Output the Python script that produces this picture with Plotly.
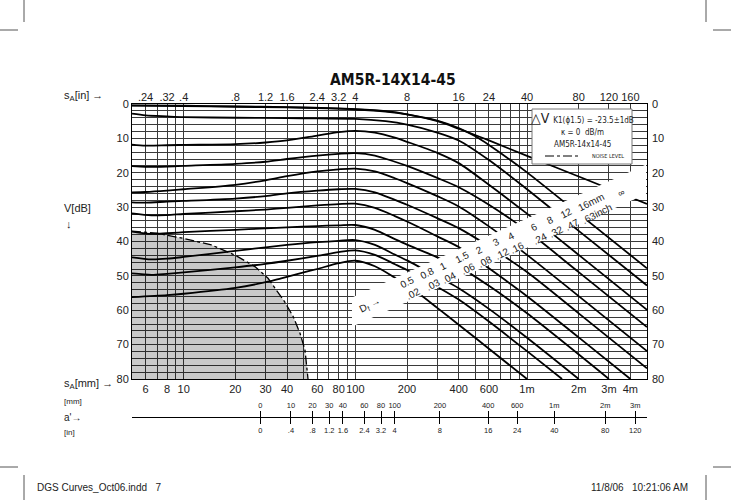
import math
import plotly.graph_objects as go

# ---------------- data ----------------
GRID_MM = [5, 6, 7, 8, 9, 10, 20, 30, 40, 50, 60, 70, 80, 90, 100, 200, 300, 400, 500,
           600, 700, 800, 900, 1000, 2000, 3000, 4000, 5000]
MM_TICKS = [6, 8, 10, 20, 30, 40, 60, 80, 100, 200, 400, 600, 1000, 2000, 3000, 4000]
MM_LABELS = ["6", "8", "10", "20", "30", "40", "60", "80", "100", "200", "400", "600",
             "1m", "2m", "3m", "4m"]
IN_LABELS = [".24", ".32", ".4", ".8", "1.2", "1.6", "2.4", "3.2", "4", "8", "16", "24",
             "40", "80", "120", "160"]
DB_TICKS = list(range(0, 81, 10))

# a' scale (projected distance) tick labels
A_MM = [0, 10, 20, 30, 40, 60, 80, 100, 200, 400, 600, 1000, 2000, 3000]
A_MM_LABELS = ["0", "10", "20", "30", "40", "60", "80", "100", "200", "400", "600",
               "1m", "2m", "3m"]
A_IN_LABELS = ["0", ".4", ".8", "1.2", "1.6", "2.4", "3.2", "4", "8", "16", "24",
               "40", "80", "120"]
A_OFFSET_MM = 28.0      # s_A at a' = 0
A_FACTOR = 1.4142       # s_A per mm of a' (45 deg probe)

# DGS curves: distance s_A [mm] and gain V [dB]
CURVES = {
    "inf": ([5, 10, 20, 40, 70, 100, 150, 200, 300, 400, 600, 1000, 2000, 5000],
            [0.4, 0.5, 0.7, 0.9, 1.2, 1.5, 2.1, 3.0, 5.0, 7.2, 10.6, 15.1, 21.1, 29.1]),
    "16": ([5, 10, 20, 40, 70, 100, 150, 200, 300, 400, 500, 600, 800, 1000, 2000, 5000],
           [0.5, 0.6, 0.8, 1.0, 1.3, 1.6, 2.2, 3.0, 4.8, 7.0, 9.4, 11.9, 16.3, 19.9, 31.9, 47.8]),
    "12": ([5, 6, 8, 10, 20, 40, 60, 100, 150, 200, 300, 400, 600, 1000, 2000, 5000],
           [2.8, 3.3, 3.6, 3.8, 4.0, 4.1, 4.2, 4.3, 5.0, 6.0, 8.3, 10.6, 16.3, 24.8, 36.9, 52.8]),
    "8": ([5, 6, 8, 10, 20, 30, 40, 60, 80, 100, 130, 170, 200, 300, 400, 600, 1000, 2000, 5000],
          [11.8, 12.1, 12.0, 11.9, 11.7, 11.2, 10.6, 9.2, 8.2, 7.8, 8.3, 9.8, 11.0, 14.2, 17.2, 23.5, 31.9, 43.9, 59.9]),
    "6": ([5, 6, 8, 10, 20, 30, 40, 60, 80, 100, 130, 170, 200, 300, 400, 600, 1000, 2000, 5000],
          [18.1, 18.3, 18.2, 18.0, 17.4, 16.8, 16.0, 15.0, 14.5, 14.3, 15.0, 16.8, 18.0, 21.5, 24.2, 29.3, 36.9, 48.9, 64.9]),
    "4": ([5, 6, 8, 10, 20, 30, 40, 60, 80, 100, 130, 170, 200, 300, 400, 600, 1000, 2000, 5000],
          [25.7, 25.6, 25.2, 24.8, 23.5, 22.2, 21.0, 19.6, 19.0, 18.8, 19.6, 21.6, 23.0, 26.8, 29.8, 35.6, 43.9, 55.9, 71.9]),
    "3": ([5, 6, 8, 10, 20, 30, 40, 60, 80, 100, 130, 170, 200, 300, 400, 600, 1000, 2000, 5000],
          [28.6, 28.7, 28.4, 28.2, 27.5, 26.8, 26.0, 25.2, 24.8, 24.7, 25.7, 27.9, 29.3, 33.2, 36.1, 41.4, 48.9, 60.9, 76.9]),
    "2": ([5, 6.5, 8, 10, 20, 30, 40, 60, 80, 100, 130, 170, 200, 300, 400, 600, 1000, 2000, 4000],
          [31.8, 32.4, 32.3, 32.0, 31.2, 30.7, 30.2, 29.5, 29.1, 29.0, 30.2, 32.6, 34.2, 38.5, 41.6, 47.8, 55.9, 67.9, 80.0]),
    "1.5": ([5, 6.5, 8, 10, 20, 30, 40, 60, 80, 100, 130, 170, 200, 300, 400, 600, 1000, 3000],
            [37.1, 37.8, 37.6, 37.3, 36.6, 36.2, 35.9, 35.5, 35.3, 35.2, 36.6, 39.3, 40.9, 44.6, 47.3, 52.9, 60.9, 80.0]),
    "1": ([5, 6.5, 8, 10, 20, 30, 40, 60, 80, 100, 130, 170, 200, 300, 400, 600, 1000, 2000],
          [44.6, 45.2, 45.0, 44.5, 42.7, 41.7, 41.0, 40.2, 39.8, 39.6, 41.0, 43.8, 45.5, 50.2, 53.6, 59.6, 68.0, 80.0]),
    "0.8": ([5, 6.5, 8, 10, 20, 30, 40, 60, 80, 100, 130, 170, 200, 300, 400, 600, 1000, 1600],
            [49.3, 49.7, 49.4, 49.0, 47.5, 46.5, 45.6, 44.2, 43.1, 42.6, 43.9, 46.6, 48.3, 53.2, 56.9, 63.3, 71.9, 80.0]),
    "0.5": ([5, 8, 10, 20, 31, 37, 50, 60, 80, 100, 130, 170, 200, 300, 400, 600, 1000],
            [56.2, 55.6, 55.2, 53.5, 51.7, 50.7, 49.0, 48.0, 46.3, 45.6, 47.2, 50.5, 52.6, 59.3, 64.2, 71.2, 80.0]),
}

# noise level boundary
NOISE_MM = [5, 7, 10, 14.5, 20, 26, 31, 38.7, 43.5, 47.6, 50.9, 52.5, 53]
NOISE_DB = [37.0, 37.6, 39.1, 41.0, 44.0, 47.3, 50.7, 57.5, 61.9, 66.7, 71.6, 78.8, 80.0]

BAND_MM = ["0.5", "0.8", "1", "1.5", "2", "3", "4", "6", "8", "12", "16mm"]
BAND_IN = [".02", ".03", ".04", ".06", ".08", ".12", ".16", ".24", ".32", ".47", ".63inch"]

# ---------------- layout helpers ----------------
W, H = 731, 500
PL, PR, PT, PB = 132, 647, 104, 417     # plot-area pixel box (incl. a' scale)
Y_BOTTOM = 379                           # bottom of the dB grid


def pp(x, y):
    return (x - PL) / (PR - PL), (PB - y) / (PB - PT)


FONT = "Liberation Sans, Arial, Helvetica, sans-serif"
NARROW = "DejaVu Sans Condensed, Liberation Sans Narrow, Arial Narrow, Liberation Sans, sans-serif"
XR = [math.log10(5), math.log10(5000)]

fig = go.Figure()

# noise region
fig.add_trace(go.Scatter(x=NOISE_MM + [5], y=NOISE_DB + [80], fill="toself",
                         fillcolor="rgba(0,0,0,0.21)", line=dict(width=0),
                         mode="lines", hoverinfo="skip", showlegend=False))
fig.add_trace(go.Scatter(x=NOISE_MM, y=NOISE_DB, mode="lines",
                         line=dict(color="black", width=1.3, dash="dashdot"),
                         hoverinfo="skip", showlegend=False))

for name, (xs, ys) in CURVES.items():
    fig.add_trace(go.Scatter(x=xs, y=ys, mode="lines", name=name,
                             line=dict(color="black", width=1.8, shape="spline", smoothing=0.8),
                             showlegend=False))

# dummy traces so secondary axes are drawn
for xa, ya in [("x2", "y"), ("x", "y2"), ("x3", "y"), ("x4", "y")]:
    fig.add_trace(go.Scatter(x=[100], y=[40], xaxis=xa, yaxis=ya, mode="markers",
                             marker=dict(opacity=0), hoverinfo="skip", showlegend=False))

grid_text = [MM_LABELS[MM_TICKS.index(v)] if v in MM_TICKS else "" for v in GRID_MM]
db_grid = list(range(0, 81, 2))
db_text = [str(v) if v % 10 == 0 else "" for v in db_grid]
ydom0 = (PB - Y_BOTTOM) / (PB - PT)
a_pos = [A_OFFSET_MM + A_FACTOR * a for a in A_MM]

axis_common = dict(type="log", range=XR, automargin=False, tickangle=0)
fig.update_layout(
    width=W, height=H, margin=dict(l=PL, r=W - PR, t=PT, b=H - PB, autoexpand=False),
    paper_bgcolor="white", plot_bgcolor="white",
    font=dict(family=FONT, color="#222", size=11),
    xaxis=dict(**axis_common, tickvals=GRID_MM, ticktext=grid_text, showgrid=True,
               gridcolor="#3a3a3a", gridwidth=0.8, showline=True, linecolor="black",
               linewidth=1, mirror=True, ticks="", anchor="y", zeroline=False,
               tickfont=dict(size=11)),
    xaxis2=dict(**axis_common, overlaying="x", side="top", anchor="y", tickvals=MM_TICKS,
                ticktext=IN_LABELS, showgrid=False, ticks="", tickfont=dict(size=11)),
    xaxis3=dict(**axis_common, overlaying="x", side="top", anchor="free", position=0,
                tickvals=a_pos, ticktext=A_MM_LABELS, showgrid=False, ticks="outside",
                ticklen=6, tickcolor="black", showline=True, linecolor="black",
                linewidth=1, tickfont=dict(size=7.5)),
    xaxis4=dict(**axis_common, overlaying="x", side="bottom", anchor="free", position=0,
                tickvals=a_pos, ticktext=A_IN_LABELS, showgrid=False, ticks="outside",
                ticklen=6, tickcolor="black", showline=False, tickfont=dict(size=7.5)),
    yaxis=dict(range=[80, 0], domain=[ydom0, 1], tickvals=db_grid, ticktext=db_text,
               showgrid=True, gridcolor="#3a3a3a", gridwidth=0.8, showline=True,
               linecolor="black", mirror=True, ticks="", zeroline=False, anchor="x",
               tickfont=dict(size=11), automargin=False),
    yaxis2=dict(range=[80, 0], overlaying="y", side="right", anchor="x", tickvals=DB_TICKS,
                showgrid=False, ticks="", zeroline=False, tickfont=dict(size=11),
                automargin=False, ticklabelstandoff=4),
)

shapes = []
# white diagonal band carrying the disc-size labels
band = [(352, 297.4), (646, 164.5), (646, 193.9), (352, 326.8)]
path = "M " + " L ".join(f"{pp(x, y)[0]:.4f},{pp(x, y)[1]:.4f}" for x, y in band) + " Z"
shapes.append(dict(type="path", xref="paper", yref="paper", path=path,
                   fillcolor="white", line=dict(width=0), layer="above"))
# info box
bx0, by0 = pp(532, 109)
bx1, by1 = pp(632, 164)
shapes.append(dict(type="rect", xref="paper", yref="paper", x0=bx0, y0=by1, x1=bx1, y1=by0,
                   fillcolor="white", line=dict(color="#777", width=1), layer="above"))
lx0, ly = pp(545, 156)
lx1, _ = pp(580, 156)
shapes.append(dict(type="line", xref="paper", yref="paper", x0=lx0, y0=ly, x1=lx1, y1=ly,
                   line=dict(color="black", width=1, dash="dashdot"), layer="above"))
# crop marks
for (x0, y0, x1, y1) in [(0, 30, 18, 30), (713, 30, 731, 30), (24, 0, 24, 22), (706, 0, 706, 22),
                         (0, 467, 18, 467), (713, 467, 731, 467), (24, 475, 24, 500),
                         (706, 475, 706, 500)]:
    a0, b0 = pp(x0, y0)
    a1, b1 = pp(x1, y1)
    shapes.append(dict(type="line", xref="paper", yref="paper", x0=a0, y0=b0, x1=a1, y1=b1,
                       line=dict(color="#555", width=1), layer="above"))
fig.update_layout(shapes=shapes)

ann = []


def text(x, y, t, size=11, xanchor="center", family=FONT, angle=0, color="#222"):
    px, py = pp(x, y)
    ann.append(dict(x=px, y=py, xref="paper", yref="paper", text=t, showarrow=False,
                    xanchor=xanchor, yanchor="middle", textangle=angle,
                    font=dict(size=size, family=family, color=color)))


text(393, 80, "<b>AM5R-14X14-45</b>", size=15.5, family=NARROW, color="#111")
text(62, 96, "s<sub>A</sub>[in] →", size=11, xanchor="left")
text(62, 208, "V[dB]", size=11, xanchor="left")
text(64, 224, "↓", size=11, xanchor="left")
text(62, 384, "s<sub>A</sub>[mm] →", size=11, xanchor="left")
text(62, 401, "[mm]", size=8, xanchor="left")
text(62, 417, "a'→", size=10, xanchor="left")
text(62, 432, "[in]", size=8, xanchor="left")

# info box text
text(582, 118, "△V <span style='font-size:8px'>K1(ϕ1.5) = -23.5±1dB</span>", size=14, family=NARROW)
text(582, 132, "κ = 0  dB/m", size=8, family=NARROW)
text(582, 144, "AM5R-14x14-45", size=8, family=NARROW)
text(590, 156, "NOISE LEVEL", size=5.5, xanchor="left", family=NARROW)

# band labels
label_px = [(410, 288), (430, 279), (446, 272), (465, 263), (482, 256), (499, 248), (514, 242),
            (537, 233), (553, 226), (569, 219), (594, 208)]
for (x, y), m, i in zip(label_px, BAND_MM, BAND_IN):
    text(x, y, f"{m}<br>{i}", size=10, angle=-27)
text(621, 193, "∞", size=9, angle=-27)
text(370, 305, "D<sub>f</sub> →", size=10, angle=-27)

# footer
text(35, 487, "DGS Curves_Oct06.indd   7", size=10, xanchor="left")
text(690, 487, "11/8/06   10:21:06 AM", size=10, xanchor="right")

fig.update_layout(annotations=ann)
fig.write_html("out.html", post_script="document.body.style.margin='0px';",
               config={"displayModeBar": False})
